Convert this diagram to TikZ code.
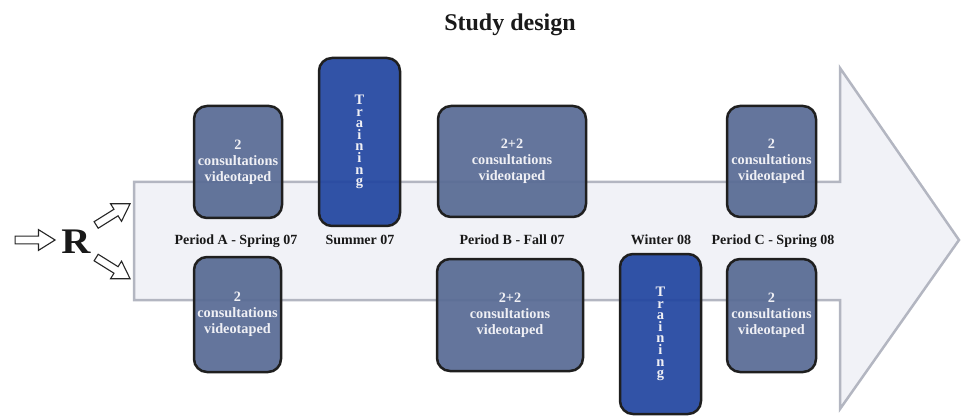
\documentclass[tikz,border=0pt]{standalone}
\usepackage{fontspec}
\setmainfont{Liberation Serif}
\usetikzlibrary{shapes.arrows}
\definecolor{arrowline}{HTML}{B3B6C1}
\definecolor{arrowfill}{HTML}{F1F2F7}
\definecolor{consbox}{HTML}{586B94}
\definecolor{trainbox}{HTML}{2246A0}
\definecolor{boxtext}{HTML}{F0F0F5}
\begin{document}
\begin{tikzpicture}[x=1pt,y=-1pt,
  cons/.style={draw=black!88, line width=2.5pt, rounded corners=13pt,
    fill=consbox, fill opacity=0.93, text opacity=1, text=boxtext,
    font=\fontsize{14.3}{16}\selectfont\bfseries, align=center, inner sep=0pt},
  train/.style={cons, fill=trainbox, font=\fontsize{14.5}{11.6}\selectfont\bfseries},
  period/.style={anchor=base, font=\fontsize{14}{16}\selectfont\bfseries, text=black!90},
  outarrow/.style={single arrow, draw=black!85, fill=white, line width=1.1pt,
    inner sep=3.3pt, single arrow head extend=6.5pt, single arrow tip angle=64,
    single arrow head indent=0pt, minimum height=40pt}
]
\useasboundingbox (0,0) rectangle (962,417);

% big background arrow
\draw[draw=arrowline, fill=arrowfill, line width=2.5pt, line join=miter]
  (134,182) -- (840,182) -- (840,68) -- (959,240) -- (840,409) -- (840,300)
  -- (134,300) -- cycle;

% title
\node[anchor=base, font=\fontsize{24}{26}\selectfont\bfseries, text=black!90]
  (title) at (510,30.5) {Study design};

% randomisation
\node[outarrow] (ain) at (32,240) {};
\node[anchor=base, font=\fontsize{36}{36}\selectfont\bfseries, text=black!90, inner sep=0pt]
  (r) at (76,253) {\scalebox{1.12}[1]{R}};
\node[outarrow, rotate=32] (aup) at (110.5,216) {};
\node[outarrow, rotate=-32] (adown) at (110.5,266.5) {};

% top row
\node[cons, minimum width=88pt, minimum height=112pt] (a1) at (238,162)
  {2\\consultations\\videotaped};
\node[train, minimum width=81pt, minimum height=168pt] (t1) at (359.5,142)
  {T\\r\\a\\i\\n\\i\\n\\g};
\node[cons, minimum width=148pt, minimum height=111pt] (b1) at (512,161.5)
  {2+2\\consultations\\videotaped};
\node[cons, minimum width=89pt, minimum height=111pt] (c1) at (771.5,161.5)
  {2\\consultations\\videotaped};

% bottom row
\node[cons, minimum width=87pt, minimum height=115pt] (a2) at (237.5,314.5)
  {2\\consultations\\videotaped};
\node[cons, minimum width=146pt, minimum height=112pt] (b2) at (510,315)
  {2+2\\consultations\\videotaped};
\node[train, minimum width=81pt, minimum height=160pt] (t2) at (660.5,334)
  {T\\r\\a\\i\\n\\i\\n\\g};
\node[cons, minimum width=89pt, minimum height=113pt] (c2) at (771.5,315.5)
  {2\\consultations\\videotaped};

% period labels
\node[period] (pa) at (236,244.5) {Period A - Spring 07};
\node[period] (ps) at (360,244.5) {Summer 07};
\node[period] (pb) at (512,244.5) {Period B - Fall 07};
\node[period] (pw) at (661,244.5) {Winter 08};
\node[period] (pc) at (773,244.5) {Period C - Spring 08};
\end{tikzpicture}
\end{document}
